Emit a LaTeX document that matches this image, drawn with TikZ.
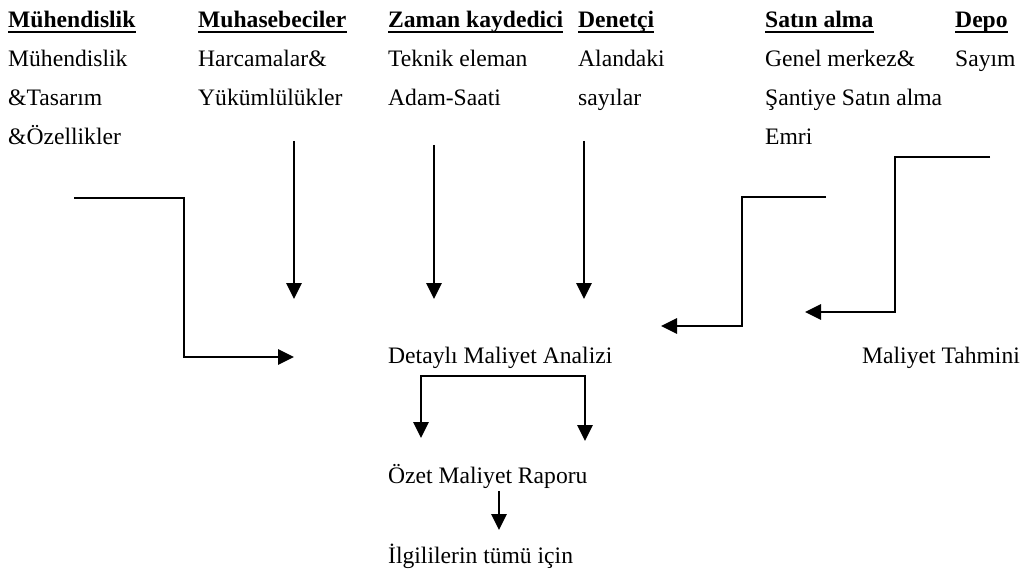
\documentclass[tikz,border=0pt]{standalone}
\usepackage{fontspec}
\setmainfont{Liberation Serif}
\usetikzlibrary{arrows.meta}

\begin{document}
\begin{tikzpicture}[x=1pt,y=-1pt,
  txt/.style={anchor=base west,inner sep=0pt,font=\fontsize{23.6pt}{28pt}\selectfont},
  head/.style={txt,font=\fontsize{23.6pt}{28pt}\selectfont\bfseries},
  uline/.style={line width=2pt},
  tip/.style={},
  flow/.style={line width=2.9pt,-{Triangle[length=16pt,width=15pt]}},
  flowboth/.style={line width=2.9pt,{Triangle[length=16pt,width=15pt]}-{Triangle[length=16pt,width=15pt]}}]
\useasboundingbox (0,0) rectangle (1025,572);

% column headings
\node[head] (h1) at (8,28)   {Mühendislik};
\node[head] (h2) at (198,28) {Muhasebeciler};
\node[head] (h3) at (388,28) {Zaman kaydedici};
\node[head] (h4) at (578,28) {Denetçi};
\node[head] (h5) at (765,28) {Satın alma};
\node[head] (h6) at (955,28) {Depo};
\foreach \h in {h1,h2,h3,h4,h5,h6}
  \draw[uline] ([yshift=-4pt]\h.base west) -- ([yshift=-4pt]\h.base east);

% inputs of each department
\node[txt] (m1) at (8,67)   {Mühendislik};
\node[txt] (m2) at (8,106)  {\&Tasarım};
\node[txt] (m3) at (8,145)  {\&Özellikler};
\node[txt] (a1) at (198,67) {Harcamalar\&};
\node[txt] (a2) at (198,106){Yükümlülükler};
\node[txt] (z1) at (388,67) {Teknik eleman};
\node[txt] (z2) at (388,106){Adam-Saati};
\node[txt] (d1) at (578,67) {Alandaki};
\node[txt] (d2) at (578,106){sayılar};
\node[txt] (s1) at (765,67) {Genel merkez\&};
\node[txt] (s2) at (765,106){Şantiye Satın alma};
\node[txt] (s3) at (765,145){Emri};
\node[txt] (p1) at (955,67) {Sayım};

% results
\node[txt] (dma) at (388,363) {Detaylı Maliyet Analizi};
\node[txt] (mt)  at (862,363) {Maliyet Tahmini};
\node[txt] (omr) at (388,483) {Özet Maliyet Raporu};
\node[txt] (ilg) at (388,563) {İlgililerin tümü için};

% connector end points
\coordinate (e1s) at (74,198);
\coordinate (e1t) at (294,357);
\coordinate (a2s) at (294,141);
\coordinate (a2t) at (294,299);
\coordinate (z2s) at (434,145);
\coordinate (z2t) at (434,299);
\coordinate (d2s) at (584,141);
\coordinate (d2t) at (584,299);
\coordinate (s3s) at (826,197);
\coordinate (s3t) at (661,326);
\coordinate (p1s) at (990,157);
\coordinate (p1t) at (805,312);
\coordinate (bl) at (421,438);
\coordinate (br) at (585,441);
\coordinate (o1s) at (499,491);
\coordinate (o1t) at (499,530);

% connectors
\draw[flow] (e1s) -- (184,198) -- (184,357) -- (e1t);
\draw[flow] (a2s) -- (a2t);
\draw[flow] (z2s) -- (z2t);
\draw[flow] (d2s) -- (d2t);
\draw[flow] (s3s) -- (742,197) -- (742,326) -- (s3t);
\draw[flow] (p1s) -- (895,157) -- (895,312) -- (p1t);
\draw[flowboth] (bl) -- (421,376) -- (585,376) -- (br);
\draw[flow] (o1s) -- (o1t);
\end{tikzpicture}
\end{document}
